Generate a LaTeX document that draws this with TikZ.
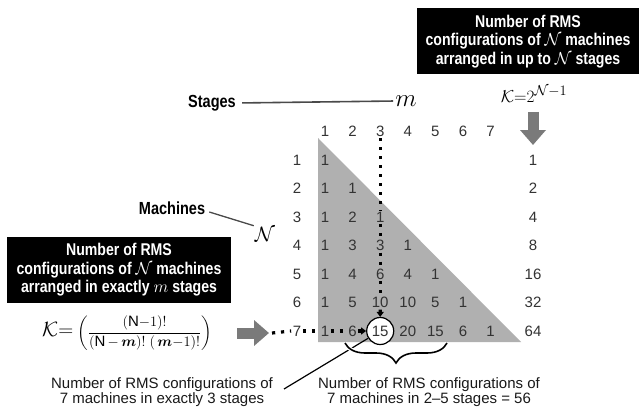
\documentclass[tikz,border=0pt]{standalone}
\usepackage{amsmath}
\usepackage{fontspec}
\setmainfont{Liberation Sans}
\newfontfamily\condbold[FakeStretch=0.83]{Liberation Sans}
\usetikzlibrary{arrows.meta,decorations.pathreplacing}
\definecolor{numgray}{HTML}{333333}
\definecolor{trigray}{HTML}{B0B0B0}
\definecolor{arrgray}{HTML}{7A7A7A}
\definecolor{lingray}{HTML}{4A4A4A}
\newcommand{\bxN}{\smash{$\mathcal{N}$}}
\begin{document}
\begin{tikzpicture}[x=1pt,y=-1pt,
  num/.style={font=\fontsize{15}{15}\selectfont, text=numgray, inner sep=1.5pt},
  blackbox/.style={fill=black, text=white, font=\condbold\bfseries\fontsize{17}{18.5}\selectfont, align=center, minimum width=222pt, minimum height=66pt, inner sep=0pt},
  lbl/.style={font=\condbold\bfseries\fontsize{17.5}{17.5}\selectfont, inner sep=1pt},
  caption/.style={font=\fontsize{15}{15.5}\selectfont, text=black!90, align=center, inner sep=0pt},
  dotline/.style={line width=3.2pt, dash pattern=on 3.2pt off 5.8pt},
  bigarrow/.style={draw=arrgray, line width=11pt, -{Triangle[length=15pt,width=25pt]}},
  labline/.style={draw=lingray, line width=1.6pt},
  circ/.style={circle, draw=black, fill=white, line width=1.2pt, minimum size=27pt, inner sep=0pt, font=\fontsize{15}{15}\selectfont, text=numgray}
]
\useasboundingbox (0,0) rectangle (639,409);
\fill[white] (0,0) rectangle (639,409);

% shaded triangle
\fill[trigray] (318,138) -- (318,342) -- (521,342) -- cycle;

% black boxes
\node[blackbox] (boxR) at (528,41.5) {Number of RMS\\configurations of \bxN\ machines\\arranged in up to \bxN\ stages};
\node[blackbox, minimum width=224pt] (boxL) at (119,270) {Number of RMS\\configurations of \bxN\ machines\\arranged in exactly $m$ stages};

% formulas
\node[inner sep=1pt] (ktop) at (534,94) {\fontsize{19}{19}\selectfont$\mathcal{K}{=}2^{\mathcal{N}-1}$};
\node[inner sep=1pt] (kform) at (127,333) {\fontsize{22}{22}\selectfont$\mathcal{K}{=}$\fontsize{15}{15}\selectfont$\;\left(\dfrac{(\mathrm{N}{-}1)!}{(\mathrm{N}\,{-}\,\boldsymbol{m})!\;(\,\boldsymbol{m}{-}1)!}\right)$};

% labels
\node[lbl] (stages) at (212,103) {Stages};
\node[inner sep=0pt] (mlab) at (406,101) {\fontsize{30}{30}\selectfont$m$};
\draw[labline, shorten <=5pt, shorten >=2pt] (stages.east) -- (mlab.west);
\node[lbl] (machines) at (172,208) {Machines};
\node[inner sep=1pt] (nlab) at (265,234) {\fontsize{21}{21}\selectfont$\mathcal{N}$};
\coordinate (mstart) at ([shift={(3,4)}]machines.east);
\draw[labline, line width=1.3pt] (mstart) -- (nlab.north west);

% headers and row labels
\foreach \c in {1,...,7}
  \node[num] (h\c) at ({325+27.6*(\c-1)},131) {\c};
\foreach \r in {1,...,7}
  \node[num] (r\r) at (297,{160+28.5*(\r-1)}) {\r};

% cells rows 1-6
\foreach \r/\vals in {1/{1},2/{1,1},3/{1,2,1},4/{1,3,3,1},5/{1,4,6,4,1},6/{1,5,10,10,5,1}}
  \foreach \v [count=\c] in \vals
    \node[num] (n\r\c) at ({325+27.6*(\c-1)},{160+28.5*(\r-1)}) {\v};

% row 7
\node[num] (n71) at (325,331) {1};
\node[num] (n72) at (352.6,331) {6};
\node[circ] (c15) at (380.2,331) {15};
\node[num] (n74) at (407.8,331) {20};
\node[num] (n75) at (435.4,331) {15};
\node[num] (n76) at (463,331) {6};
\node[num] (n77) at (490.6,331) {1};

% K column
\foreach \r/\k in {1/1,2/2,3/4,4/8,5/16,6/32,7/64}
  \node[num] (k\r) at (533,{160+28.5*(\r-1)}) {\k};

% big arrows
\coordinate (ta1) at (533,112);
\coordinate (ta2) at (533,145);
\draw[bigarrow] (ta1) -- (ta2);
\coordinate (la1) at (237,333);
\coordinate (la2) at (269,333);
\draw[bigarrow] (la1) -- (la2);

% dotted paths
\draw[dotline] (h3.south) -- (n33.north);
\draw[dotline] (n33.south) -- (n43.north);
\draw[dotline] (n43.south) -- (n53.north);
\draw[dotline] (n53.south) -- (n63.north);
\draw[dotline, -{Triangle[length=5pt,width=7pt]}] (n63.south) -- (c15.north);
\draw[dotline] ([xshift=3pt]la2) -- (r7.west);
\draw[dotline] (r7.east) -- (n71.west);
\draw[dotline] (n71.east) -- (n72.west);
\draw[dotline, -{Triangle[length=5pt,width=7pt]}] (n72.east) -- (c15.west);

% captions
\node[caption] (capL) at (162,392) {Number of RMS configurations of\\7 machines in exactly 3 stages};
\node[caption] (capR) at (429,392) {Number of RMS configurations of\\7 machines in 2--5 stages = 56};

% pointer line and brace
\coordinate (pl) at (284,389);
\draw[line width=1.2pt] (pl) -- (c15);
\draw[line width=1.6pt, preaction={draw=white, line width=4pt}, decorate, decoration={brace, amplitude=20pt, aspect=0.5}] (447,343) -- (345,343);
\end{tikzpicture}
\end{document}
